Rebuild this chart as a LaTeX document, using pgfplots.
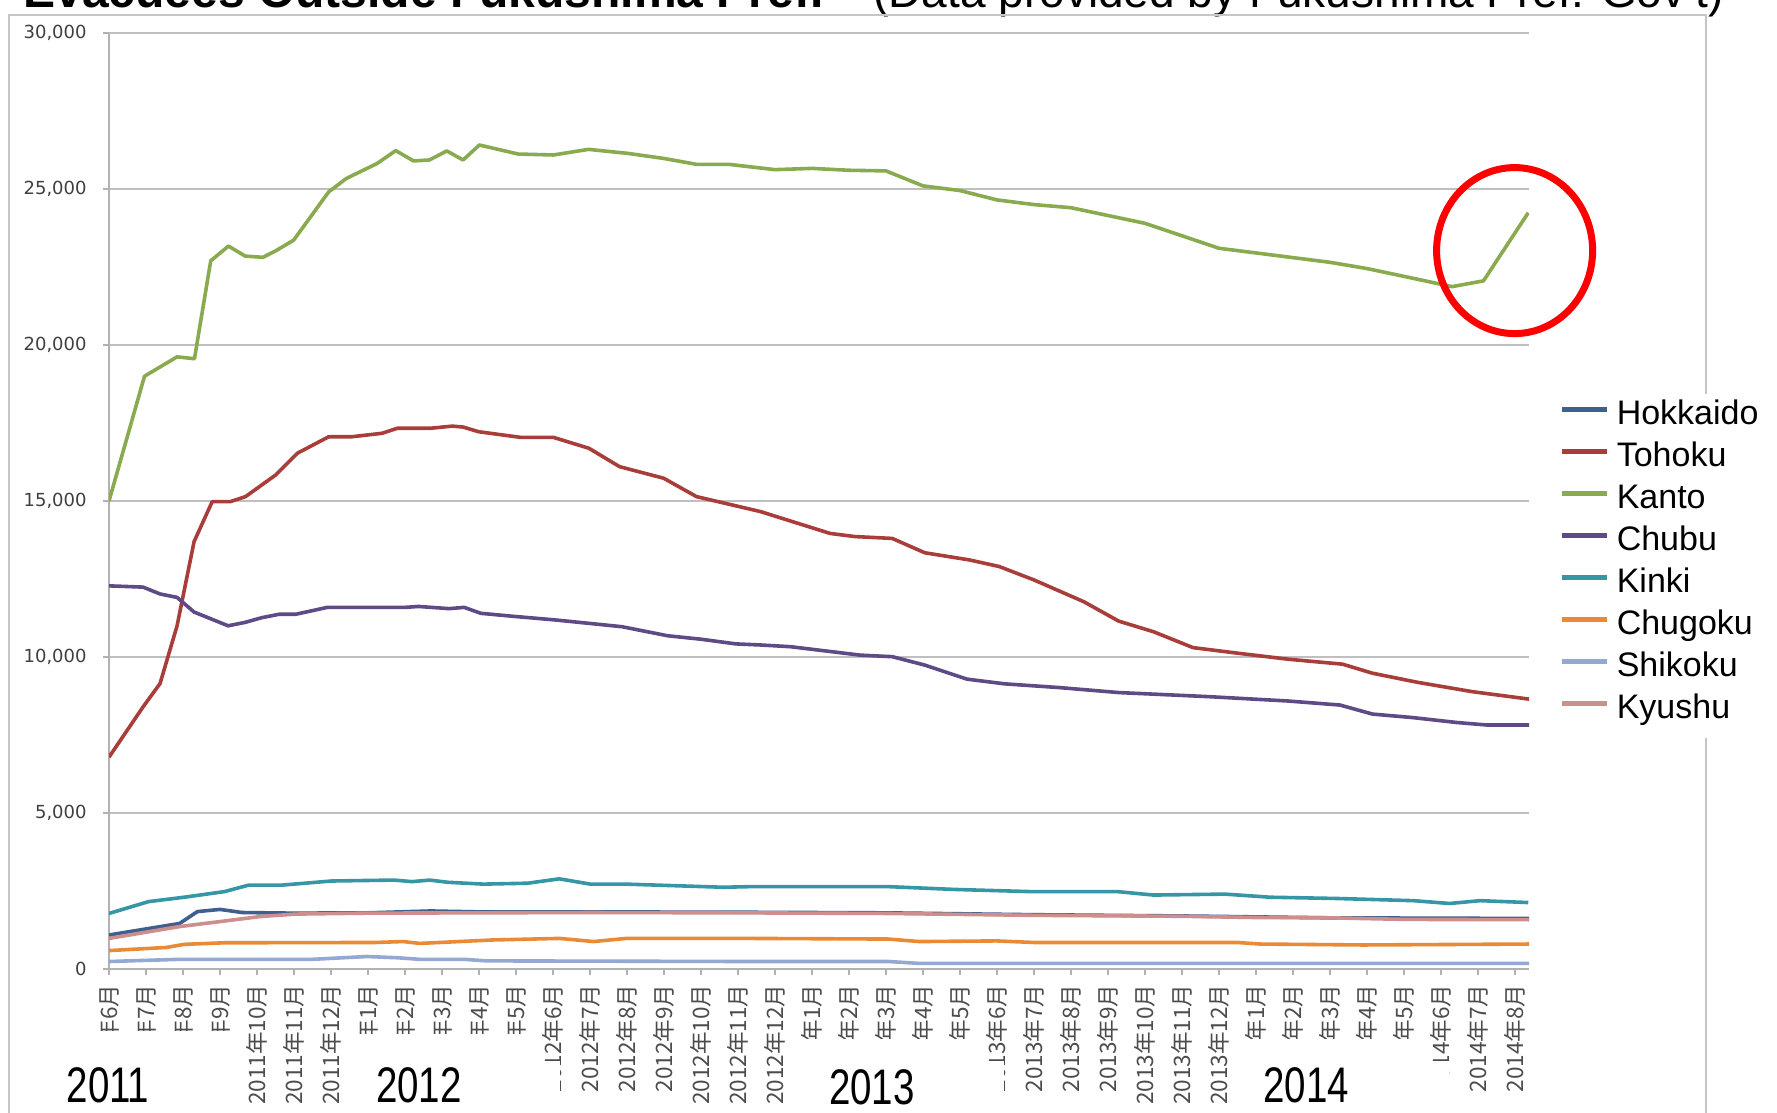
\documentclass[border=0pt]{standalone}
\usepackage{pgfplots}
\pgfplotsset{compat=1.18}
\usepackage{graphicx}
\usepackage{fontspec}
\setmainfont{Liberation Sans}
\newfontfamily\tickfont{DejaVu Sans}
\newfontfamily\jpfont{Noto Sans CJK JP}
\definecolor{cHok}{HTML}{3F5F8F}
\definecolor{cToh}{HTML}{A83D3A}
\definecolor{cKan}{HTML}{8AAA50}
\definecolor{cChu}{HTML}{5E4A84}
\definecolor{cKin}{HTML}{3596A6}
\definecolor{cChg}{HTML}{EB8A35}
\definecolor{cShi}{HTML}{94A8D4}
\definecolor{cKyu}{HTML}{CF8E8E}
\begin{document}
\begin{tikzpicture}
\useasboundingbox (0,0) rectangle (888.5pt,556.5pt);
% partially visible title
\node[anchor=base west, inner sep=0pt, font=\bfseries\fontsize{24}{24}\selectfont] at (11.5pt,552.5pt) {Evacuees Outside Fukushima Pref.};
\node[anchor=base west, inner sep=0pt, font=\fontsize{23}{23}\selectfont] at (436.5pt,552.5pt) {(Data provided by Fukushima Pref. Gov't)};
% outer frame
\draw[gray!45, line width=1pt] (4.5pt,-10pt) rectangle (853pt,549pt);
\begin{axis}[
  at={(54.5pt,72pt)}, anchor=south west,
  width=710pt, height=468pt, scale only axis,
  xmin=0, xmax=38.38, ymin=0, ymax=30000,
  axis x line*=bottom, axis y line*=left,
  axis line style={draw=gray!60, line width=0.8pt},
  ytick={0,5000,...,30000},
  ymajorgrids, grid style={draw=gray!50, line width=0.9pt},
  xtick={0,...,38},
  xticklabels={2011年6月,2011年7月,2011年8月,2011年9月,2011年10月,2011年11月,2011年12月,2012年1月,2012年2月,2012年3月,2012年4月,2012年5月,2012年6月,2012年7月,2012年8月,2012年9月,2012年10月,2012年11月,2012年12月,2013年1月,2013年2月,2013年3月,2013年4月,2013年5月,2013年6月,2013年7月,2013年8月,2013年9月,2013年10月,2013年11月,2013年12月,2014年1月,2014年2月,2014年3月,2014年4月,2014年5月,2014年6月,2014年7月,2014年8月},
  tick align=outside, major tick length=3pt,
  tick style={draw=gray!60, line width=0.8pt},
  scaled y ticks=false,
  yticklabel style={font=\tickfont\fontsize{9}{10}\selectfont, text=black!75, /pgf/number format/1000 sep={,}, /pgf/number format/assume math mode=true, inner sep=0pt, anchor=east, xshift=-8pt},
  xticklabel style={font=\jpfont\fontsize{11.3}{11.3}\selectfont, text=black!70, yshift=-4.5pt, rotate=90, anchor=east, inner sep=0pt},
  legend style={at={(1.0183,0.6143)}, anchor=north west, draw=none, fill=white, inner sep=2pt, font=\fontsize{17}{20}\selectfont, row sep=0pt, column sep=4pt, nodes={inner sep=0pt, text height=13pt, text depth=8pt}},
  legend cell align=left,
  legend image code/.code={\draw[#1, line width=2.2pt] (0pt,5pt) -- (22.5pt,5pt);},
  every axis plot/.append style={line width=1.8pt, no markers, line join=round},
]
\addplot[color=cHok] coordinates {(0,1090) (1.91,1460) (2.39,1840) (3.0,1910) (3.6,1810) (5.0,1790) (7,1800) (8.7,1860) (10,1830) (13,1830) (17,1820) (21,1800) (25,1740) (29,1700) (33,1640) (38.38,1620)};
\addlegendentry{Hokkaido}
\addplot[color=cToh] coordinates {(0,6790) (0.92,8400) (1.38,9150) (1.84,11000) (2.3,13700) (2.79,14980) (3.28,14980) (3.69,15140) (4.5,15830) (5.09,16530) (5.94,17060) (6.57,17060) (7.38,17170) (7.79,17330) (8.68,17330) (9.28,17400) (9.57,17370) (9.99,17220) (11.12,17040) (12.01,17040) (12.97,16690) (13.8,16100) (14.99,15730) (15.88,15140) (17.61,14660) (19.49,13960) (20.16,13860) (21.17,13800) (22.05,13340) (23.26,13110) (24.06,12900) (25.0,12470) (26.35,11770) (27.29,11150) (28.23,10810) (29.3,10300) (30.52,10120) (31.86,9930) (33.34,9770) (34.15,9480) (35.36,9190) (36.84,8890) (38.38,8650)};
\addlegendentry{Tohoku}
\addplot[color=cKan] coordinates {(0,15000) (0.96,19000) (1.84,19620) (2.31,19560) (2.75,22700) (3.23,23170) (3.68,22850) (4.16,22810) (4.51,23020) (4.99,23360) (5.94,24910) (6.42,25340) (7.25,25820) (7.75,26230) (8.23,25900) (8.66,25930) (9.13,26220) (9.57,25930) (10.01,26410) (11.06,26120) (12.01,26090) (12.96,26270) (14.03,26140) (14.99,25980) (15.88,25790) (16.75,25790) (18,25620) (19,25660) (20,25600) (21,25580) (22,25100) (23,24950) (24,24650) (25,24500) (26,24400) (27,24150) (28,23900) (29,23500) (30,23100) (31,22950) (32,22800) (33,22650) (34,22450) (35,22200) (36.3,21870) (37.15,22056) (38.36,24240)};
\addlegendentry{Kanto}
\addplot[color=cChu] coordinates {(0,12280) (0.92,12240) (1.38,12020) (1.84,11910) (2.3,11440) (2.76,11220) (3.22,11000) (3.68,11110) (4.13,11260) (4.6,11370) (5.05,11370) (5.9,11590) (8.0,11590) (8.36,11620) (9.19,11550) (9.6,11590) (10.05,11400) (10.96,11300) (12.04,11190) (12.96,11080) (13.87,10970) (15.1,10680) (16.0,10570) (16.94,10420) (17.61,10385) (18.42,10330) (20.3,10060) (21.17,10010) (22.05,9740) (23.19,9290) (24.2,9140) (25.68,9020) (27.29,8860) (29.71,8730) (31.86,8590) (33.27,8460) (34.15,8170) (35.22,8060) (36.43,7900) (37.24,7820) (38.38,7820)};
\addlegendentry{Chubu}
\addplot[color=cKin] coordinates {(0,1780) (1.07,2160) (2.03,2300) (3.12,2480) (3.78,2690) (4.69,2690) (6.01,2820) (7.7,2850) (8.19,2800) (8.67,2850) (9.15,2780) (10.12,2720) (11.32,2750) (12.17,2890) (13.01,2720) (13.98,2720) (16.6,2620) (17.34,2640) (21.06,2640) (22.85,2550) (24.92,2480) (27.26,2480) (28.23,2370) (30.16,2400) (31.39,2300) (33.19,2260) (35.26,2190) (36.23,2100) (37.06,2190) (38.36,2130)};
\addlegendentry{Kinki}
\addplot[color=cChg] coordinates {(0,590) (1.55,690) (2.03,790) (3.12,840) (7.2,850) (7.95,880) (8.4,820) (10.36,930) (12.17,980) (13.1,880) (13.98,980) (17.3,980) (21.06,960) (21.9,880) (24,900) (25,850) (30.5,850) (31.1,800) (33.9,770) (38.38,800)};
\addlegendentry{Chugoku}
\addplot[color=cShi] coordinates {(0,240) (1.9,310) (5.5,310) (6.98,400) (7.8,360) (8.4,310) (9.6,310) (10.2,260) (17.3,240) (21.06,240) (21.9,180) (38.38,180)};
\addlegendentry{Shikoku}
\addplot[color=cKyu] coordinates {(0,980) (1.91,1360) (3.0,1520) (4.08,1680) (5.05,1760) (7,1790) (10,1800) (13,1810) (17,1800) (21,1780) (25,1720) (29,1690) (31,1650) (33,1640) (35,1590) (38.38,1580)};
\addlegendentry{Kyushu}
\end{axis}
% red circle annotation
\draw[red, line width=3.5pt] (757.3pt,431.2pt) ellipse [x radius=39pt, y radius=41.5pt];
% year overlays
\fill[white] (27.5pt,0pt) rectangle (120pt,41pt);
\fill[white] (175.5pt,0pt) rectangle (267.5pt,39.5pt);
\fill[white] (270pt,0pt) rectangle (280pt,26pt);
\fill[white] (397.5pt,0pt) rectangle (490pt,37pt);
\fill[white] (492pt,0pt) rectangle (502pt,26pt);
\fill[white] (620pt,0pt) rectangle (712.5pt,37pt);
\fill[white] (714.5pt,0pt) rectangle (724.5pt,26pt);
\node[inner sep=0pt, font=\fontsize{25}{25}\selectfont] at (54pt,14pt) {\scalebox{0.77}[1]{2011}};
\node[inner sep=0pt, font=\fontsize{25}{25}\selectfont] at (209.5pt,14pt) {\scalebox{0.77}[1]{2012}};
\node[inner sep=0pt, font=\fontsize{25}{25}\selectfont] at (436pt,13pt) {\scalebox{0.77}[1]{2013}};
\node[inner sep=0pt, font=\fontsize{25}{25}\selectfont] at (653pt,14pt) {\scalebox{0.77}[1]{2014}};
\end{tikzpicture}
\end{document}
